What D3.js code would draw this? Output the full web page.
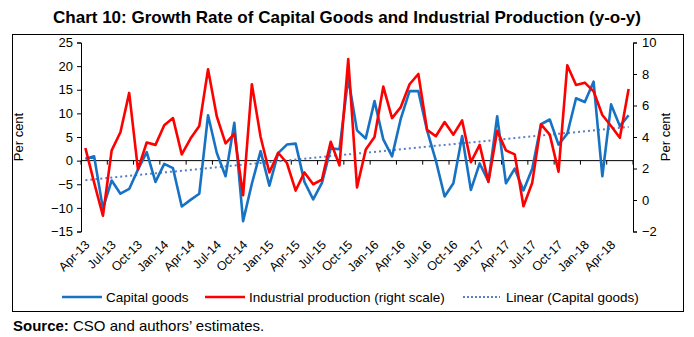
<!DOCTYPE html>
<html>
<head>
<meta charset="utf-8">
<script src="https://cdn.jsdelivr.net/npm/d3@7"></script>
<style>
  body { margin: 0; background: #fff; }
  text { font-family: "Liberation Sans", Arial, sans-serif; }
</style>
</head>
<body>
<div id="chart"></div>
<script>
// months, Apr-13 to Jun-18
var months = [
  "Apr-13","May-13","Jun-13","Jul-13","Aug-13","Sep-13","Oct-13","Nov-13","Dec-13",
  "Jan-14","Feb-14","Mar-14","Apr-14","May-14","Jun-14","Jul-14","Aug-14","Sep-14",
  "Oct-14","Nov-14","Dec-14","Jan-15","Feb-15","Mar-15","Apr-15","May-15","Jun-15",
  "Jul-15","Aug-15","Sep-15","Oct-15","Nov-15","Dec-15","Jan-16","Feb-16","Mar-16",
  "Apr-16","May-16","Jun-16","Jul-16","Aug-16","Sep-16","Oct-16","Nov-16","Dec-16",
  "Jan-17","Feb-17","Mar-17","Apr-17","May-17","Jun-17","Jul-17","Aug-17","Sep-17",
  "Oct-17","Nov-17","Dec-17","Jan-18","Feb-18","Mar-18","Apr-18","May-18","Jun-18"
];

// capital goods growth, per cent (left scale)
var capitalGoods = [
  0.4, 0.9, -10.1, -4.2, -7.0, -6.0, -1.9, 1.8, -4.5,
  -0.7, -1.6, -9.7, -8.3, -7.0, 9.6, 1.6, -3.3, 8.0,
  -12.8, -4.9, 2.0, -5.3, 1.6, 3.4, 3.6, -4.5, -8.2,
  -4.7, 2.6, 2.4, 17.5, 6.4, 4.7, 12.6, 4.5, 0.9,
  8.9, 14.7, 14.7, 6.4, 0.0, -7.6, -4.8, 5.2, -6.2,
  -0.6, -4.4, 9.4, -4.8, -1.7, -6.3, -1.7, 7.7, 8.7,
  3.4, 5.7, 13.2, 12.4, 16.7, -3.3, 11.9, 7.3, 9.6
];

// industrial production growth, per cent (right scale)
var industrialProd = [
  3.3, 1.1, -1.0, 3.15, 4.3, 6.8, 1.95, 3.65, 3.5,
  4.75, 5.2, 2.9, 3.9, 4.7, 8.3, 5.3, 3.6, 4.2,
  0.3, 7.35, 4.0, 1.75, 3.0, 2.35, 0.6, 1.75, 1.0,
  1.3, 3.7, 2.2, 8.95, 0.8, 3.2, 4.0, 7.2, 5.2,
  5.9, 7.35, 8.0, 4.45, 4.05, 4.95, 4.15, 5.05, 2.4,
  3.5, 1.15, 4.4, 3.15, 2.9, -0.4, 1.1, 4.8, 4.15,
  1.8, 8.55, 7.3, 7.45, 6.9, 5.4, 4.7, 3.95, 7.05
];

var leftTicks = [-15, -10, -5, 0, 5, 10, 15, 20, 25];
var rightTicks = [-2, 0, 2, 4, 6, 8, 10];

var W = 694, H = 337;
var plot = { left: 81, right: 633, top: 42.5, bottom: 231.5 };

var svg = d3.select("#chart").append("svg")
  .attr("width", W)
  .attr("height", H);

// title
svg.append("text")
  .attr("x", W / 2)
  .attr("y", 23)
  .attr("text-anchor", "middle")
  .attr("textLength", 588)
  .attr("lengthAdjust", "spacingAndGlyphs")
  .style("font-size", "17px")
  .style("font-weight", "bold")
  .text("Chart 10: Growth Rate of Capital Goods and Industrial Production (y-o-y)");

// outer frame
svg.append("rect")
  .attr("x", 12.5).attr("y", 34.5)
  .attr("width", 671).attr("height", 277)
  .attr("fill", "none")
  .attr("stroke", "#000")
  .attr("stroke-width", 1);

var x = d3.scaleBand()
  .domain(months)
  .range([plot.left, plot.right]);

var yL = d3.scaleLinear().domain([-15, 25]).range([plot.bottom, plot.top]);
var yR = d3.scaleLinear().domain([-2, 10]).range([plot.bottom, plot.top]);

var cx = function(m) { return x(m) + x.bandwidth() / 2; };

// left axis
var leftAxis = svg.append("g")
  .attr("transform", "translate(" + plot.left + ",0)")
  .call(d3.axisLeft(yL).tickValues(leftTicks).tickSize(4).tickPadding(4));
leftAxis.selectAll("text").style("font-size", "13px").attr("fill", "#000");

// right axis
var rightAxis = svg.append("g")
  .attr("transform", "translate(" + plot.right + ",0)")
  .call(d3.axisRight(yR).tickValues(rightTicks).tickSize(4).tickPadding(5));
rightAxis.selectAll("text").style("font-size", "13px").attr("fill", "#000");

[leftAxis, rightAxis].forEach(function(a) {
  a.selectAll("path, line").attr("stroke", "#000");
});

// category axis at zero
var zeroY = yL(0);
svg.append("line")
  .attr("x1", plot.left).attr("x2", plot.right)
  .attr("y1", zeroY).attr("y2", zeroY)
  .attr("stroke", "#000");

var tickIdx = d3.range(0, months.length + 1, 3);
svg.selectAll(".xtick")
  .data(tickIdx)
  .enter().append("line")
  .attr("class", "xtick")
  .attr("x1", function(i) { return plot.left + i * x.step(); })
  .attr("x2", function(i) { return plot.left + i * x.step(); })
  .attr("y1", zeroY).attr("y2", zeroY + 4)
  .attr("stroke", "#000");

var labelMonths = months.filter(function(m, i) { return i % 3 === 0; });
svg.selectAll(".xlab")
  .data(labelMonths)
  .enter().append("text")
  .attr("class", "xlab")
  .attr("text-anchor", "end")
  .style("font-size", "12.5px")
  .attr("transform", function(m) {
    return "translate(" + (cx(m) + 5) + "," + (plot.bottom + 14) + ") rotate(-45)";
  })
  .text(function(m) { return m; });

// axis titles
svg.append("text")
  .attr("transform", "translate(23," + ((plot.top + plot.bottom) / 2) + ") rotate(-90)")
  .attr("text-anchor", "middle")
  .style("font-size", "13px")
  .text("Per cent");

svg.append("text")
  .attr("transform", "translate(670," + ((plot.top + plot.bottom) / 2) + ") rotate(-90)")
  .attr("text-anchor", "middle")
  .style("font-size", "13px")
  .text("Per cent");

// linear trend of capital goods (least squares, as the spreadsheet trendline)
var n = capitalGoods.length;
var xs = d3.range(n);
var mx = d3.mean(xs), my = d3.mean(capitalGoods);
var sxy = d3.sum(xs, function(i) { return (i - mx) * (capitalGoods[i] - my); });
var sxx = d3.sum(xs, function(i) { return (i - mx) * (i - mx); });
var slope = sxy / sxx, intercept = my - slope * mx;

svg.append("line")
  .attr("x1", cx(months[0])).attr("y1", yL(intercept))
  .attr("x2", cx(months[n - 1])).attr("y2", yL(intercept + slope * (n - 1)))
  .attr("stroke", "#5a7fc4")
  .attr("stroke-width", 2)
  .attr("stroke-dasharray", "2,3");

// series lines
var lineL = d3.line()
  .x(function(d, i) { return cx(months[i]); })
  .y(function(d) { return yL(d); });
var lineR = d3.line()
  .x(function(d, i) { return cx(months[i]); })
  .y(function(d) { return yR(d); });

svg.append("path")
  .datum(capitalGoods)
  .attr("d", lineL)
  .attr("fill", "none")
  .attr("stroke", "#1872c4")
  .attr("stroke-width", 2.6)
  .attr("stroke-linejoin", "round");

svg.append("path")
  .datum(industrialProd)
  .attr("d", lineR)
  .attr("fill", "none")
  .attr("stroke", "#ff0000")
  .attr("stroke-width", 2.6)
  .attr("stroke-linejoin", "round");

// legend
var legendItems = [
  { label: "Capital goods", color: "#1872c4", dash: null, x1: 62, x2: 102, tx: 106 },
  { label: "Industrial production (right scale)", color: "#ff0000", dash: null, x1: 205, x2: 245, tx: 249 },
  { label: "Linear (Capital goods)", color: "#5a7fc4", dash: "2,2", x1: 463, x2: 500, tx: 506 }
];
var legY = 297;
var leg = svg.selectAll(".leg")
  .data(legendItems)
  .enter().append("g")
  .attr("class", "leg");
leg.append("line")
  .attr("x1", function(d) { return d.x1; })
  .attr("x2", function(d) { return d.x2; })
  .attr("y1", legY).attr("y2", legY)
  .attr("stroke", function(d) { return d.color; })
  .attr("stroke-width", function(d) { return d.dash ? 2 : 2.6; })
  .attr("stroke-dasharray", function(d) { return d.dash; });
leg.append("text")
  .attr("x", function(d) { return d.tx; })
  .attr("y", legY + 5)
  .style("font-size", "13.5px")
  .text(function(d) { return d.label; });

// source note
var src = svg.append("text")
  .attr("x", 13)
  .attr("y", 331)
  .style("font-size", "15px");
src.append("tspan").style("font-weight", "bold").text("Source:");
src.append("tspan").text(" CSO and authors\u2019 estimates.");
</script>
</body>
</html>
